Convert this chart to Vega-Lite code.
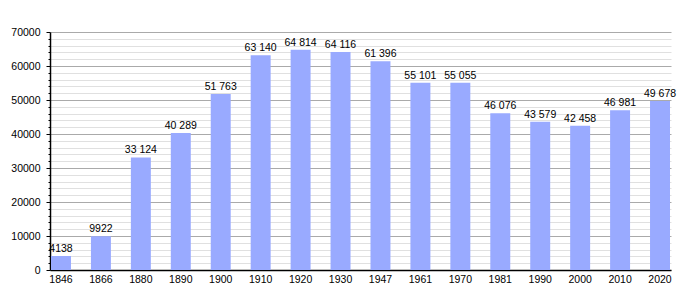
{
  "$schema": "https://vega.github.io/schema/vega-lite/v6.json",
  "autosize": {"type": "none"},
  "width": 621,
  "height": 238,
  "padding": {"left": 50, "top": 32, "right": 29, "bottom": 30},
  "background": "white",
  "config": {
    "view": {"stroke": null},
    "font": "Liberation Sans",
    "axis": {"labelFont": "Liberation Sans", "labelFontSize": 10.5, "labelColor": "#000"}
  },
  "data": {
    "values": [
      {"year": "1846", "pop": 4138, "label": "4138"},
      {"year": "1866", "pop": 9922, "label": "9922"},
      {"year": "1880", "pop": 33124, "label": "33 124"},
      {"year": "1890", "pop": 40289, "label": "40 289"},
      {"year": "1900", "pop": 51763, "label": "51 763"},
      {"year": "1910", "pop": 63140, "label": "63 140"},
      {"year": "1920", "pop": 64814, "label": "64 814"},
      {"year": "1930", "pop": 64116, "label": "64 116"},
      {"year": "1947", "pop": 61396, "label": "61 396"},
      {"year": "1961", "pop": 55101, "label": "55 101"},
      {"year": "1970", "pop": 55055, "label": "55 055"},
      {"year": "1981", "pop": 46076, "label": "46 076"},
      {"year": "1990", "pop": 43579, "label": "43 579"},
      {"year": "2000", "pop": 42458, "label": "42 458"},
      {"year": "2010", "pop": 46981, "label": "46 981"},
      {"year": "2020", "pop": 49678, "label": "49 678"}
    ]
  },
  "encoding": {
    "x": {
      "field": "year",
      "type": "ordinal",
      "sort": null,
      "scale": {"paddingInner": 0.5, "paddingOuter": 0.025},
      "axis": {
        "title": null,
        "labelAngle": 0,
        "ticks": false,
        "labelPadding": 4,
        "domainColor": "#000",
        "domainWidth": 1.5,
        "grid": false
      }
    },
    "y": {
      "field": "pop",
      "type": "quantitative",
      "scale": {"domain": [0, 70000], "nice": false},
      "axis": {
        "title": null,
        "values": [0,2000,4000,6000,8000,10000,12000,14000,16000,18000,20000,22000,24000,26000,28000,30000,32000,34000,36000,38000,40000,42000,44000,46000,48000,50000,52000,54000,56000,58000,60000,62000,64000,66000,68000,70000],
        "labelExpr": "datum.value % 10000 === 0 ? '' + datum.value : ''",
        "grid": true,
        "gridColor": {"condition": {"test": "datum.value % 10000 === 0", "value": "#aaaaaa"}, "value": "#e0e0e0"},
        "tickSize": {"condition": {"test": "datum.value % 10000 === 0", "value": 4}, "value": 2},
        "tickColor": "#000",
        "domainColor": "#000",
        "domainWidth": 1.5,
        "labelPadding": 6
      }
    }
  },
  "layer": [
    {"mark": {"type": "bar", "color": "#99aaff"}},
    {
      "mark": {"type": "text", "baseline": "alphabetic", "dy": -4, "fontSize": 10.5, "font": "Liberation Sans", "color": "#000"},
      "encoding": {"text": {"field": "label"}}
    }
  ]
}
